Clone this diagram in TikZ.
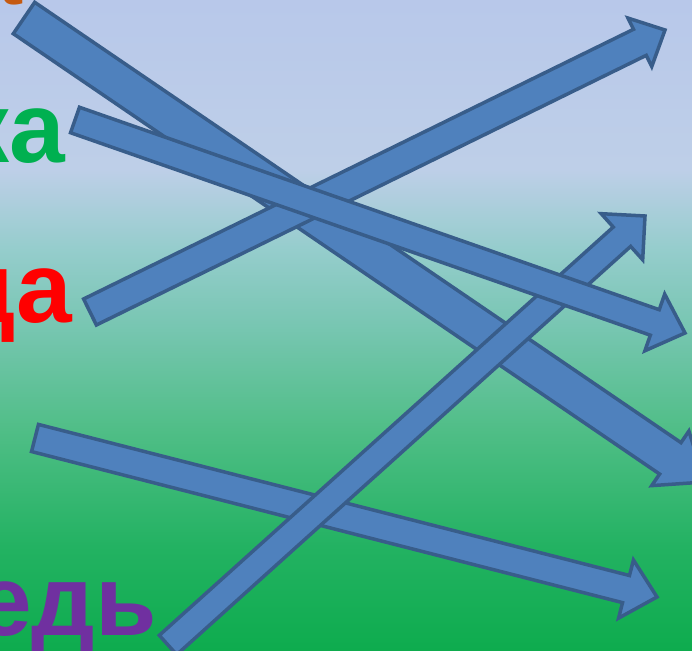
\documentclass[tikz,border=0pt]{standalone}
\usepackage{fontspec}
\setmainfont{Liberation Sans}
\usepackage{xcolor}
\usetikzlibrary{calc}
\definecolor{skyblue}{RGB}{184,200,234}
\definecolor{paleblue}{RGB}{190,207,232}
\definecolor{tealA}{RGB}{150,205,205}
\definecolor{tealB}{RGB}{120,198,178}
\definecolor{meadow}{RGB}{80,190,135}
\definecolor{grassA}{RGB}{35,178,98}
\definecolor{grassB}{RGB}{14,172,78}
\definecolor{arrowfill}{RGB}{79,129,189}
\definecolor{arrowline}{RGB}{56,93,138}
\definecolor{wordbrown}{RGB}{197,90,17}
\definecolor{wordgreen}{RGB}{0,176,80}
\definecolor{wordred}{RGB}{255,0,0}
\definecolor{wordpurple}{RGB}{112,48,160}
\pgfdeclareverticalshading{meadowsky}{100bp}{color(0bp)=(grassB); color(25bp)=(grassB);
  color(33bp)=(grassA); color(42bp)=(meadow); color(50bp)=(tealB); color(56bp)=(tealA);
  color(62bp)=(paleblue); color(75bp)=(skyblue); color(100bp)=(skyblue)}
% block arrow: tail, tip, shaft half width, head half width, head length
\newcommand{\blockarrow}[5]{%
  \coordinate (hb) at ($(#2)!#5!(#1)$);
  \draw[arrowbody] ($(#1)!#3!90:(#2)$) -- ($(hb)!#3!90:(#2)$) -- ($(hb)!#4!90:(#2)$) -- (#2)
    -- ($(hb)!#4!-90:(#2)$) -- ($(hb)!#3!-90:(#2)$) -- ($(#1)!#3!-90:(#2)$) -- cycle;
}

\begin{document}
\begin{tikzpicture}[x=1pt,y=1pt,
  word/.style={font=\fontsize{100}{100}\selectfont\bfseries, inner sep=0pt, anchor=base east},
  arrowbody/.style={fill=arrowfill, draw=arrowline, line width=3.5pt, line join=miter}]
\useasboundingbox (0,0) rectangle (692,650);
\clip (0,0) rectangle (692,650);
\shade[shading=meadowsky] (0,0) rectangle (692,650);

\node[word, text=wordbrown] (w1) at (22,645) {а};
\node[word, text=wordgreen] (w2) at (65,487) {ка};
\node[word, text=wordred] (w3) at (72,327) {ца};
\node[word, text=wordpurple] (w4) at (157,15) {едь};

\coordinate (t1) at (24,632);  \coordinate (p1) at (705,168);
\coordinate (t2) at (75,530);  \coordinate (p2) at (685,317);
\coordinate (t3) at (90,338);  \coordinate (p3) at (665,620);
\coordinate (t4) at (168,5);   \coordinate (p4) at (645,434);
\coordinate (t5) at (35,212);  \coordinate (p5) at (657,53);

\blockarrow{t1}{p1}{19pt}{33pt}{42pt}
\blockarrow{t3}{p3}{14.5pt}{27pt}{28pt}
\blockarrow{t5}{p5}{14pt}{30pt}{32pt}
\blockarrow{t4}{p4}{13pt}{31pt}{31pt}
\blockarrow{t2}{p2}{13.5pt}{30pt}{32pt}
\end{tikzpicture}
\end{document}
